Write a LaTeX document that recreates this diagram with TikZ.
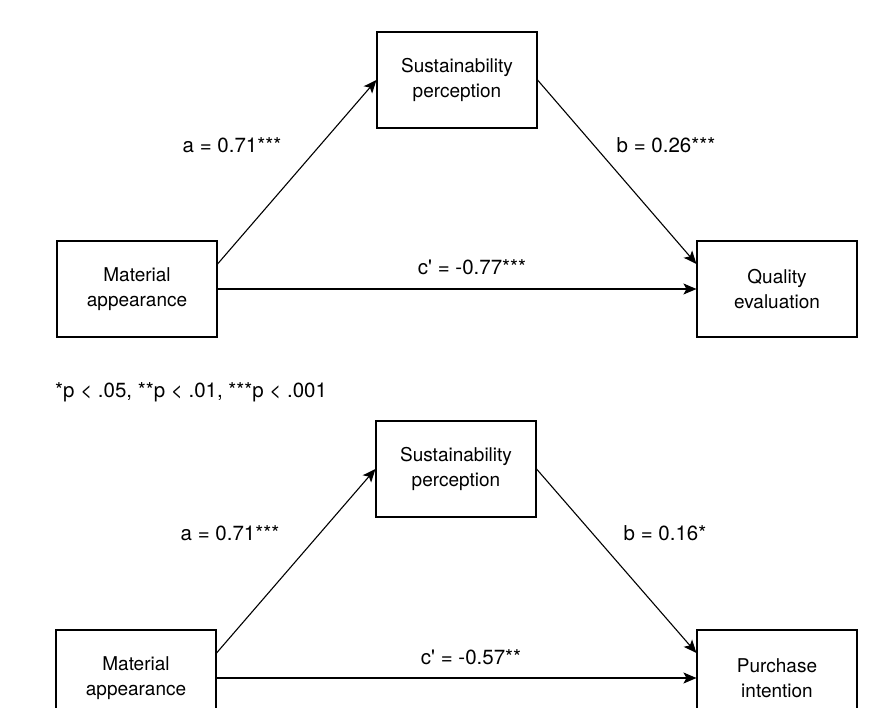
\documentclass[tikz,border=0pt]{standalone}
\usepackage{fontspec}
\setmainfont{TeX Gyre Heros}
\usetikzlibrary{arrows.meta}
\tikzset{
  varbox/.style={draw, line width=1.1pt, minimum width=160pt, minimum height=96pt,
    align=center, inner sep=0pt, font=\fontsize{19}{25}\selectfont},
  coef/.style={inner sep=0pt, font=\fontsize{20.5}{24}\selectfont},
  patharrow/.style={-{Stealth[length=13pt,width=11pt,inset=3pt]}, line width=1.1pt},
}
\begin{document}
\begin{tikzpicture}[x=1pt,y=-1pt]
    \clip (0,0) rectangle (878,707);
    \fill[white] (0,0) rectangle (878,707);
    % quality evaluation model
    \node[varbox] (mat1) at (137,289) {Material\\appearance};
    \node[varbox] (sus1) at (457,80) {Sustainability\\perception};
    \node[varbox] (qual1) at (777,289) {Quality\\evaluation};
    \draw[patharrow] ([yshift=25pt]mat1.east) -- (sus1.west);
    \draw[patharrow] (sus1.east) -- ([yshift=25pt]qual1.west);
    \draw[patharrow] (mat1.east) -- (qual1.west);
    \node[coef] (a1) at (232,145) {a = 0.71***};
    \node[coef] (b1) at (666,145) {b = 0.26***};
    \node[coef] (c1) at (472,267) {c\textquotesingle{} = -0.77***};

    \node[coef, anchor=west] (note) at (55,392) {*p < .05, **p < .01, ***p < .001};

    % purchase intention model
    \node[varbox] (mat2) at (136,678) {Material\\appearance};
    \node[varbox] (sus2) at (456,469) {Sustainability\\perception};
    \node[varbox] (pur2) at (777,678) {Purchase\\intention};
    \draw[patharrow] ([yshift=25pt]mat2.east) -- (sus2.west);
    \draw[patharrow] (sus2.east) -- ([yshift=25pt]pur2.west);
    \draw[patharrow] (mat2.east) -- (pur2.west);
    \node[coef] (a2) at (230,533) {a = 0.71***};
    \node[coef] (b2) at (665,533) {b = 0.16*};
    \node[coef] (c2) at (471,657) {c\textquotesingle{} = -0.57**};
\end{tikzpicture}
\end{document}
